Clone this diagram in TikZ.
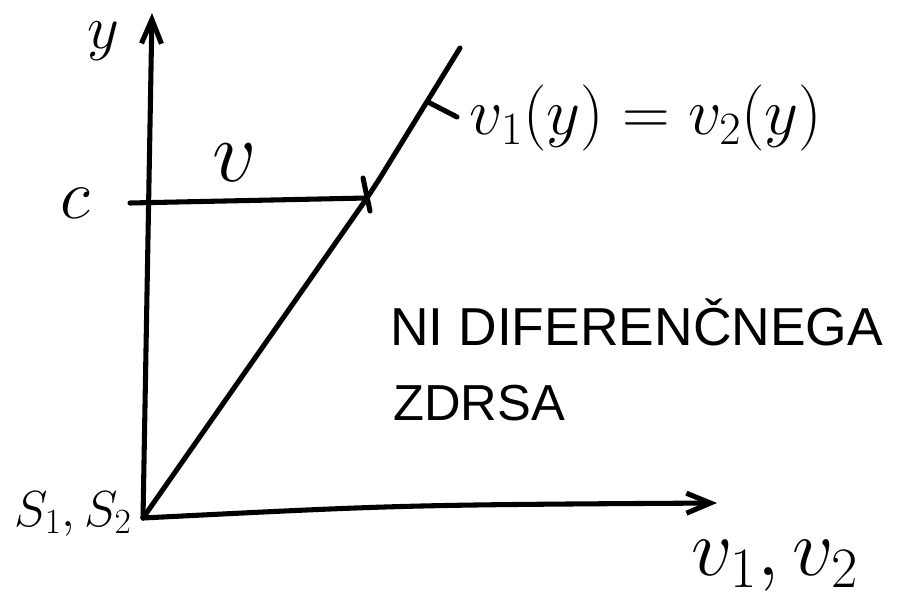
\RequirePackage{fix-cm}
\documentclass[tikz,border=0pt]{standalone}
\usepackage{fontspec}
\setmainfont{Liberation Sans}
\usetikzlibrary{arrows.meta}
\begin{document}
\begin{tikzpicture}[x=0.025cm,y=-0.025cm,
  ink/.style={line width=3.6pt, line cap=round, line join=round},
  lbl/.style={inner sep=0pt},
  axistip/.style={-{Straight Barb[length=0.6cm,width=0.5cm,line width=3.6pt]}}]
\useasboundingbox (0,0) rectangle (907,597);
% key points
\coordinate (O) at (143,518);
\coordinate (ytop) at (152,13);
\coordinate (xend) at (717,503);
\coordinate (cL) at (130,203);
\coordinate (P) at (367,198);
\coordinate (K) at (380,178);
\coordinate (E) at (460,48);
\coordinate (tA) at (363,178);
\coordinate (tB) at (370,211);
\coordinate (pA) at (428,102);
\coordinate (pB) at (457,117);
% axes
\draw[ink,axistip] (O) -- (ytop);
\draw[ink,axistip] (O) .. controls (400,505) .. (xend);
% line v1(y)=v2(y)
\draw[ink] (O) -- (P) -- (K) -- (E);
% horizontal c -- v
\draw[ink] (cL) -- (P);
\draw[ink] (tA) -- (tB);
% pointer tick
\draw[ink] (pA) -- (pB);
% labels
\node[lbl,font=\fontsize{44}{52}\selectfont] (ylab) at (103,41) {$y$};
\node[lbl,font=\fontsize{50}{60}\selectfont] (clab) at (75,203) {$c$};
\node[lbl,font=\fontsize{62}{74}\selectfont] (vlab) at (235,163) {$v$};
\node[lbl,font=\fontsize{47}{56}\selectfont] (eqlab) at (646,118) {$v_1(y)=v_2(y)$};
\node[lbl,font=\fontsize{36}{42}\selectfont] (slab) at (73,514) {$S_1,S_2$};
\node[lbl,font=\fontsize{58}{68}\selectfont] (xlab) at (775,566) {$v_1,v_2$};
\node[lbl,anchor=base west,font=\fontsize{38}{46}\selectfont] (t1) at (390,345) {NI DIFERENČNEGA};
\node[lbl,anchor=base west,font=\fontsize{36}{44}\selectfont] (t2) at (393,420) {ZDRSA};
\end{tikzpicture}
\end{document}
